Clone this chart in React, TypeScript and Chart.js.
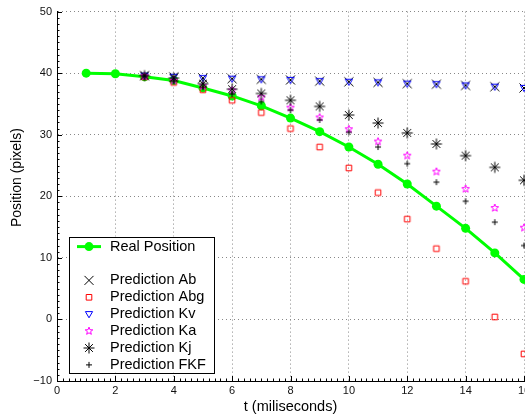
import React, { useEffect, useRef } from 'react';
import { Chart, registerables } from 'chart.js';

Chart.register(...registerables);

const FONT = "'Liberation Sans', Arial, Helvetica, sans-serif";

// ---- data ----
const realTimes = [1, 2, 3, 4, 5, 6, 7, 8, 9, 10, 11, 12, 13, 14, 15, 16];
const realPosition = [40, 39.9, 39.4, 38.8, 37.6, 36.3, 34.7, 32.7, 30.5, 28.0, 25.2, 22.0, 18.4, 14.8, 10.8, 6.5];

const predictionTimes = [3, 4, 5, 6, 7, 8, 9, 10, 11, 12, 13, 14, 15, 16];
const predictionAb = [39.6, 39.4, 39.2, 39.1, 39.0, 38.9, 38.7, 38.6, 38.5, 38.3, 38.2, 38.0, 37.8, 37.6];
const predictionAbg = [39.4, 38.5, 37.3, 35.6, 33.6, 31.0, 28.0, 24.6, 20.6, 16.3, 11.5, 6.2, 0.4, -5.6];
const predictionKv = [39.6, 39.4, 39.2, 39.1, 39.0, 38.9, 38.7, 38.6, 38.5, 38.3, 38.2, 38.0, 37.8, 37.6];
const predictionKa = [39.5, 38.8, 37.9, 37.2, 36.1, 34.4, 32.8, 30.9, 28.9, 26.6, 24.0, 21.2, 18.1, 14.9];
const predictionKj = [39.6, 39.2, 38.3, 37.4, 36.7, 35.6, 34.6, 33.2, 31.9, 30.3, 28.5, 26.6, 24.7, 22.6];
const predictionFKF = [39.5, 38.7, 37.7, 36.6, 35.4, 34.0, 32.4, 30.4, 28.0, 25.3, 22.3, 19.2, 15.8, 12.0];

const seriesLabels = [
  'Real Position',
  'Prediction Ab',
  'Prediction Abg',
  'Prediction Kv',
  'Prediction Ka',
  'Prediction Kj',
  'Prediction FKF',
];

const xMin = 0;
const xMax = 16;
const xStep = 2;
const yMin = -10;
const yMax = 50;
const yStep = 10;
const xAxisTitle = 't (miliseconds)';
const yAxisTitle = 'Position (pixels)';

type Kind = 'circle' | 'x' | 'square' | 'triDown' | 'star5' | 'asterisk' | 'plus';

function drawMarker(ctx: CanvasRenderingContext2D, kind: Kind, x: number, y: number) {
  ctx.save();
  ctx.lineWidth = 1;
  ctx.beginPath();
  switch (kind) {
    case 'circle':
      ctx.fillStyle = '#00ff00';
      ctx.arc(x, y, 4.5, 0, Math.PI * 2);
      ctx.fill();
      break;
    case 'x': {
      const r = 4.5;
      ctx.strokeStyle = '#000';
      ctx.moveTo(x - r, y - r);
      ctx.lineTo(x + r, y + r);
      ctx.moveTo(x - r, y + r);
      ctx.lineTo(x + r, y - r);
      ctx.stroke();
      break;
    }
    case 'square': {
      const r = 2.8;
      ctx.strokeStyle = '#ff0000';
      ctx.rect(x - r, y - r, 2 * r, 2 * r);
      ctx.stroke();
      break;
    }
    case 'triDown':
      ctx.strokeStyle = '#0000ff';
      ctx.moveTo(x - 3.6, y - 2.6);
      ctx.lineTo(x + 3.6, y - 2.6);
      ctx.lineTo(x, y + 3.6);
      ctx.closePath();
      ctx.stroke();
      break;
    case 'star5': {
      ctx.strokeStyle = '#ff00ff';
      for (let i = 0; i < 10; i++) {
        const a = -Math.PI / 2 + (i * Math.PI) / 5;
        const rr = i % 2 === 0 ? 4 : 1.7;
        const px = x + rr * Math.cos(a);
        const py = y + rr * Math.sin(a);
        if (i === 0) ctx.moveTo(px, py);
        else ctx.lineTo(px, py);
      }
      ctx.closePath();
      ctx.stroke();
      break;
    }
    case 'asterisk': {
      const r = 5.5;
      ctx.strokeStyle = '#000';
      for (let i = 0; i < 4; i++) {
        const a = (i * Math.PI) / 4;
        ctx.moveTo(x - r * Math.cos(a), y - r * Math.sin(a));
        ctx.lineTo(x + r * Math.cos(a), y + r * Math.sin(a));
      }
      ctx.stroke();
      break;
    }
    case 'plus': {
      const r = 3;
      ctx.strokeStyle = '#000';
      ctx.moveTo(x - r, y);
      ctx.lineTo(x + r, y);
      ctx.moveTo(x, y - r);
      ctx.lineTo(x, y + r);
      ctx.stroke();
      break;
    }
  }
  ctx.restore();
}

function makeMarker(kind: Kind): HTMLCanvasElement {
  const c = document.createElement('canvas');
  c.width = 16;
  c.height = 16;
  const ctx = c.getContext('2d')!;
  drawMarker(ctx, kind, 8, 8);
  return c;
}

const seriesKinds: Kind[] = ['circle', 'x', 'square', 'triDown', 'star5', 'asterisk', 'plus'];

const axisTicksPlugin = {
  id: 'inwardTicks',
  afterDraw(chart: any) {
    const { ctx, chartArea, scales } = chart;
    const xs = scales.x;
    const ys = scales.y;
    ctx.save();
    ctx.strokeStyle = '#000';
    ctx.lineWidth = 1;
    ctx.beginPath();
    // x ticks (major every 2, minor every 0.2)
    for (let i = xMin * 5; i <= xMax * 5; i++) {
      const v = i / 5;
      const px = Math.round(xs.getPixelForValue(v)) + 0.5;
      const len = i % (xStep * 5) === 0 ? 5 : 2.5;
      ctx.moveTo(px, chartArea.bottom);
      ctx.lineTo(px, chartArea.bottom - len);
    }
    // y ticks (major every 10, minor every 1)
    for (let v = yMin; v <= yMax; v++) {
      const py = Math.round(ys.getPixelForValue(v)) + 0.5;
      const len = v % yStep === 0 ? 5 : 2.5;
      ctx.moveTo(chartArea.left, py);
      ctx.lineTo(chartArea.left + len, py);
    }
    ctx.stroke();

    // y axis title
    ctx.fillStyle = '#000';
    ctx.font = `14px ${FONT}`;
    ctx.textAlign = 'center';
    ctx.textBaseline = 'middle';
    ctx.translate(17, chartArea.top + 166);
    ctx.rotate(-Math.PI / 2);
    ctx.fillText(yAxisTitle, 0, 0);
    ctx.restore();
  },
};

const legendPlugin = {
  id: 'boxLegend',
  afterDatasetsDraw(chart: any) {
    const { ctx, chartArea } = chart;
    const left = chartArea.left + 12;
    const top = chartArea.top + 225;
    const w = 145;
    const h = 136;
    ctx.save();
    ctx.fillStyle = '#fff';
    ctx.fillRect(left, top, w, h);
    ctx.strokeStyle = '#000';
    ctx.lineWidth = 1;
    ctx.strokeRect(Math.round(left) + 0.5, Math.round(top) + 0.5, w, h);

    ctx.font = `14.5px ${FONT}`;
    ctx.textAlign = 'left';
    ctx.textBaseline = 'middle';
    ctx.fillStyle = '#000';
    const markerX = left + 20;
    const textX = left + 41;
    seriesLabels.forEach((label, i) => {
      const row = i === 0 ? 0 : i + 1;
      const y = top + 10 + row * 16.9;
      if (i === 0) {
        ctx.save();
        ctx.strokeStyle = '#00ff00';
        ctx.lineWidth = 3;
        ctx.beginPath();
        ctx.moveTo(left + 8, y);
        ctx.lineTo(left + 32, y);
        ctx.stroke();
        ctx.restore();
      }
      drawMarker(ctx, seriesKinds[i], markerX, y);
      ctx.fillStyle = '#000';
      ctx.fillText(label, textX, y);
    });
    ctx.restore();
  },
};

export default function App() {
  const canvasRef = useRef<HTMLCanvasElement | null>(null);

  useEffect(() => {
    const canvas = canvasRef.current;
    if (!canvas) return;
    const markers = seriesKinds.map((k) => makeMarker(k));
    const predictionSeries = [predictionAb, predictionAbg, predictionKv, predictionKa, predictionKj, predictionFKF];

    const datasets: any[] = [
      {
        label: seriesLabels[0],
        data: realTimes.map((t, i) => ({ x: t, y: realPosition[i] })),
        showLine: true,
        borderColor: '#00ff00',
        borderWidth: 3,
        pointStyle: 'circle',
        pointRadius: 4.5,
        pointBackgroundColor: '#00ff00',
        pointBorderColor: '#00ff00',
        pointBorderWidth: 0,
        order: 10,
        clip: false,
      },
      ...predictionSeries.map((vals, s) => ({
        label: seriesLabels[s + 1],
        data: predictionTimes.map((t, i) => ({ x: t, y: vals[i] })),
        showLine: false,
        pointStyle: markers[s + 1],
        pointRadius: 5,
        order: 6 - s,
        clip: false,
      })),
    ];

    const chart = new Chart(canvas, {
      type: 'scatter',
      data: { datasets },
      options: {
        animation: false,
        responsive: false,
        events: [],
        layout: { padding: { left: 0, top: 11, right: 36, bottom: 0 } },
        plugins: {
          legend: { display: false },
          tooltip: { enabled: false },
        },
        scales: {
          x: {
            type: 'linear',
            min: xMin,
            max: xMax,
            ticks: {
              stepSize: xStep,
              color: '#111',
              font: { family: FONT, size: 11 },
              padding: 3,
              maxRotation: 0,
            },
            grid: { color: '#888', drawTicks: false, lineWidth: 1 },
            border: { display: true, color: '#000', width: 1, dash: [1, 3] },
            title: {
              display: true,
              text: xAxisTitle,
              color: '#000',
              font: { family: FONT, size: 14.5 },
              padding: { top: 0, bottom: 0 },
            },
            afterFit: (scale: any) => {
              scale.height = 35;
            },
          },
          y: {
            type: 'linear',
            min: yMin,
            max: yMax,
            ticks: {
              stepSize: yStep,
              color: '#111',
              font: { family: FONT, size: 11 },
              padding: 5,
              callback: (v: any) => (Number(v) < 0 ? '\u2212' + Math.abs(Number(v)) : String(v)),
            },
            grid: { color: '#888', drawTicks: false, lineWidth: 1 },
            border: { display: true, color: '#000', width: 1, dash: [1, 3] },
            title: { display: false, text: yAxisTitle },
            afterFit: (scale: any) => {
              scale.width = 57;
            },
          },
        },
      },
      plugins: [axisTicksPlugin, legendPlugin],
    });
    return () => chart.destroy();
  }, []);

  return (
    <div
      style={{
        position: 'absolute',
        left: 0,
        top: 0,
        width: 525,
        height: 416,
        overflow: 'hidden',
        background: '#fff',
      }}
    >
      <canvas ref={canvasRef} width={560} height={416} style={{ display: 'block' }} />
    </div>
  );
}
